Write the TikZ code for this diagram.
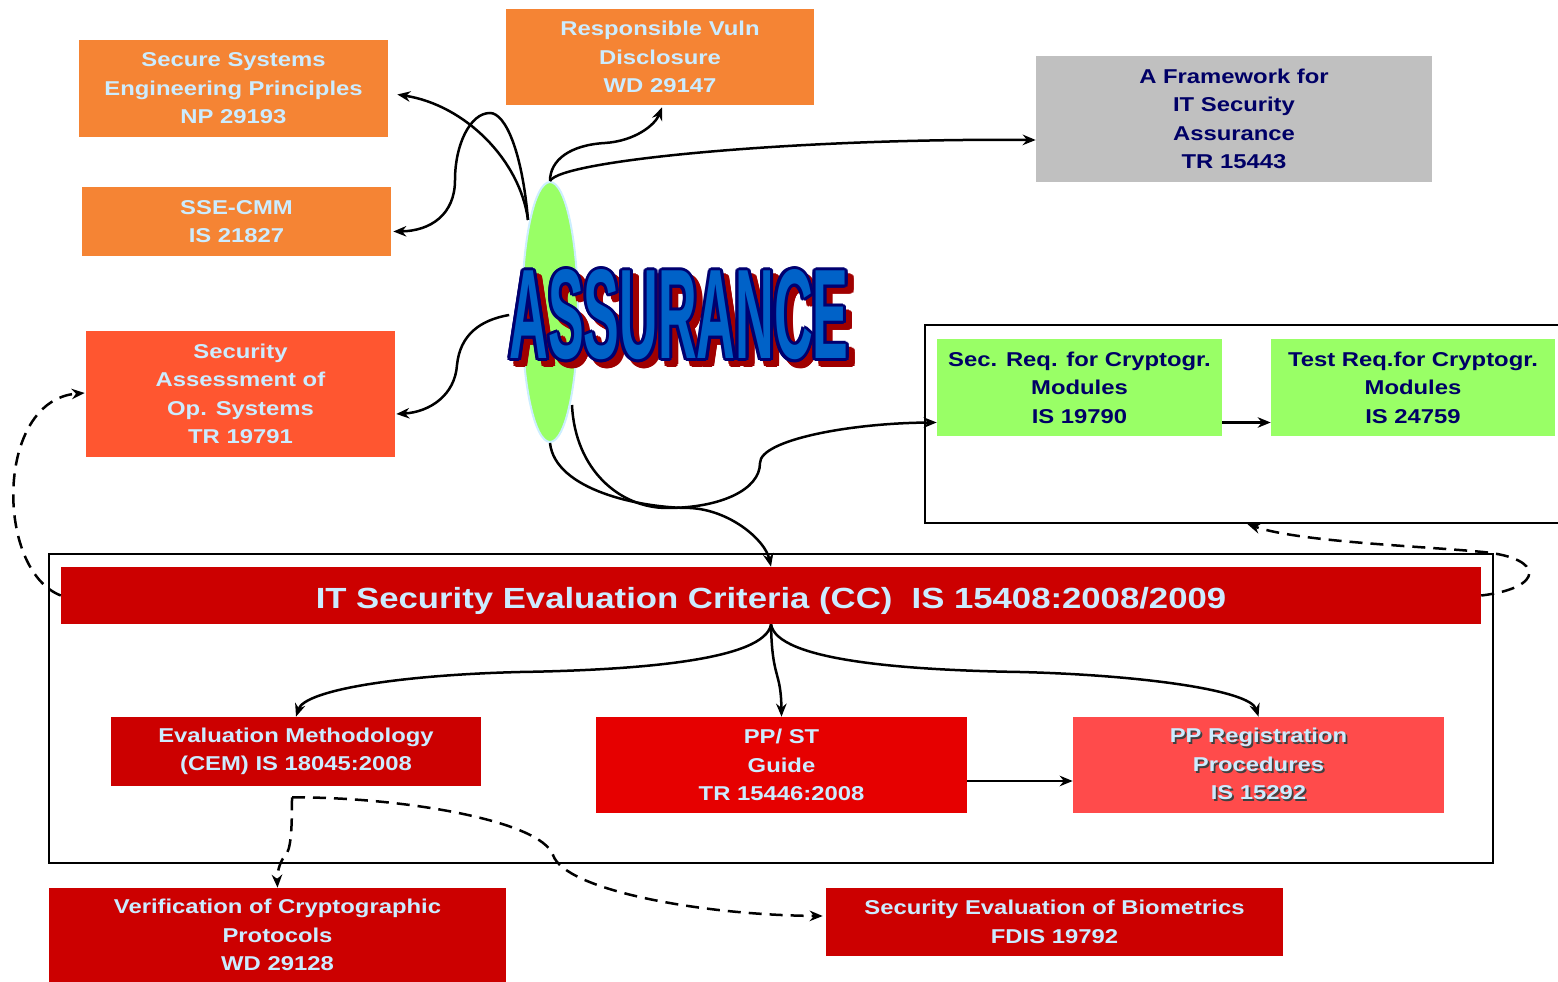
\documentclass[tikz,border=0pt]{standalone}
\usepackage{fontspec}
\setmainfont{Liberation Sans}[FakeStretch=1.19]
\newfontfamily\assurfont{Liberation Sans}
\usetikzlibrary{shapes.geometric,arrows.meta,calc}
\definecolor{orng}{HTML}{F58434}
\definecolor{saoc}{HTML}{FF5630}
\definecolor{greyc}{HTML}{C0C0C0}
\definecolor{greenc}{HTML}{99FF66}
\definecolor{ccred}{HTML}{CC0000}
\definecolor{ppstc}{HTML}{E60000}
\definecolor{pprc}{HTML}{FF4B4B}
\definecolor{navy}{HTML}{000066}
\definecolor{txtblue}{HTML}{CCECFF}
\definecolor{ellb}{HTML}{CCEEFF}
\definecolor{assblue}{HTML}{0062C8}
\definecolor{assnavy}{HTML}{000070}
\definecolor{assred}{HTML}{A00000}
\newcommand\assurtext[1]{\resizebox{6.78cm}{1.78cm}{\color{#1}\assurfont\bfseries ASSURANCE}}
\newcommand\shd[1]{\makebox[0pt][l]{\hspace{0.035cm}\raisebox{-0.035cm}{\color{black!75}#1}}#1}
\tikzset{
  box/.style={rectangle, inner sep=0pt, align=center, text=txtblue,
    font=\fontsize{11.4pt}{16.2pt}\selectfont\bfseries},
  obox/.style={box, fill=orng},
  nbox/.style={box, text=navy},
  cont/.style={rectangle, draw=black, line width=0.05cm, inner sep=0pt},
  arr/.style={line width=0.05cm, -{Stealth[length=0.26cm,width=0.21cm]}},
  dsh/.style={arr, dash pattern=on 0.26cm off 0.16cm},
}
\begin{document}
\begin{tikzpicture}[x=0.02cm,y=-0.02cm]
\useasboundingbox (0,0) rectangle (1558,982);

% containers
\node[cont, minimum width=12.9cm, minimum height=3.96cm] (gcont) at (1247.5,424) {};
\node[cont, minimum width=28.88cm, minimum height=6.18cm] (cccont) at (771,708.5) {};

% top boxes
\node[obox, minimum width=6.18cm, minimum height=1.94cm] (ssep) at (233.5,88.5) {Secure Systems\\Engineering Principles\\NP 29193};
\node[obox, minimum width=6.16cm, minimum height=1.92cm] (rvd) at (660,57) {Responsible Vuln\\Disclosure\\WD 29147};
\node[nbox, fill=greyc, minimum width=7.92cm, minimum height=2.52cm] (fw) at (1234,119) {A Framework for\\IT Security\\Assurance\\TR 15443};
\node[obox, minimum width=6.18cm, minimum height=1.38cm] (sse) at (236.5,221.5) {SSE-CMM\\IS 21827};
\node[box, fill=saoc, minimum width=6.18cm, minimum height=2.52cm] (sao) at (240.5,394) {Security\\Assessment of\\Op. Systems\\TR 19791};

% green boxes
\node[nbox, fill=greenc, minimum width=5.70cm, minimum height=1.94cm] (secreq) at (1079.5,387.5) {Sec. Req. for Cryptogr.\\Modules\\IS 19790};
\node[nbox, fill=greenc, minimum width=5.68cm, minimum height=1.94cm] (testreq) at (1413,387.5) {Test Req.for Cryptogr.\\Modules\\IS 24759};

% CC group
\node[box, fill=ccred, minimum width=28.4cm, minimum height=1.14cm, font=\fontsize{16.6pt}{20pt}\selectfont\bfseries] (cc) at (771,595.5) {\raisebox{-0.1cm}[\height][\depth]{IT Security Evaluation Criteria (CC)\ \ IS 15408:2008/2009}};
\node[box, fill=ccred, minimum width=7.4cm, minimum height=1.38cm] (em) at (296,751.5) {Evaluation Methodology\\(CEM) IS 18045:2008};
\node[box, fill=ppstc, minimum width=7.42cm, minimum height=1.92cm] (ppst) at (781.5,765) {PP/ ST\\Guide\\TR 15446:2008};
\node[box, fill=pprc, minimum width=7.42cm, minimum height=1.92cm] (ppreg) at (1258.5,765) {\shd{PP Registration}\\\shd{Procedures}\\\shd{IS 15292}};

% bottom boxes
\node[box, fill=ccred, minimum width=9.14cm, minimum height=1.88cm] (vcp) at (277.5,935) {Verification of Cryptographic\\Protocols\\WD 29128};
\node[box, fill=ccred, minimum width=9.14cm, minimum height=1.36cm] (seb) at (1054.5,922) {Security Evaluation of Biometrics\\FDIS 19792};

% ellipse
\node[ellipse, fill=greenc, draw=ellb, line width=0.04cm, minimum width=1.12cm, minimum height=5.2cm, inner sep=0pt] (ell) at (550,312) {};
\coordinate (sa) at ($(ell.center)+(-22,-92)$);
\coordinate (sf) at ($(ell.center)+(22,93)$);

% connectors from ASSURANCE
\draw[arr] (sa) .. controls (520,160) and (465,105) .. ($(ssep.east)+(9,6)$);
\draw[arr] (sa) .. controls (522,150) and (505,113) .. (490,113)
  .. controls (470,113) and (455,145) .. (455,180)
  .. controls (455,215) and (430,231) .. ($(sse.east)+(2,10)$);
\draw[arr] (ell.north) .. controls (550,160) and (570,145) .. (605,143)
  .. controls (635,141) and (655,125) .. ($(rvd.south)+(2,2)$);
\draw[arr] (ell.north) .. controls (560,160) and (800,138) .. ($(fw.west)+(0,21)$);
\draw[arr] (ell.south) .. controls (555,490) and (640,508) .. (690,508)
  .. controls (730,510) and (765,540) .. (cc.north);
\draw[arr] (sf) .. controls (575,470) and (620,508) .. (667,508)
  .. controls (720,508) and (760,490) .. (760,463)
  .. controls (760,440) and (850,423) .. ($(secreq.west)+(0,35)$);
\draw[arr] ($(secreq.east)+(0,35)$) -- ($(testreq.west)+(0,35)$);

% CC children
\draw[arr] (cc.south) .. controls (765,660) and (640,670) .. (520,672)
  .. controls (400,675) and (305,690) .. (em.north);
\draw[arr] (cc.south) .. controls (772,680) and (781,670) .. (ppst.north);
\draw[arr] (cc.south) .. controls (777,660) and (900,670) .. (1020,672)
  .. controls (1140,675) and (1250,690) .. (ppreg.north);
\draw[arr] ($(ppst.east)+(0,16)$) -- ($(ppreg.west)+(0,16)$);

% dashed
\draw[dsh] (cc.west) .. controls (-5,570) and (-5,400) .. ($(sao.west)+(-1,-1)$);
\draw[dsh] (cc.east) .. controls (1545,588) and (1545,558) .. (1483,552)
  .. controls (1420,546) and (1300,542) .. (gcont.south);
\coordinate (sj) at ($(em.south)+(-4,11)$);
\draw[dsh] (sj) .. controls (292,830) and (291,850) .. (285,856)
  .. controls (279,862) and (277,875) .. (vcp.north);
\draw[dsh] (sj) .. controls (400,797) and (540,820) .. (553,855)
  .. controls (565,890) and (700,915) .. ($(seb.west)+(-3,-6)$);

% ASSURANCE
\foreach \a in {0,22.5,...,337.5}
  \node[inner sep=0pt] at ($(685,321)+(\a:3)$) {\assurtext{assred}};
\node[inner sep=0pt] at (685,321) {\assurtext{assred}};
\foreach \a in {0,22.5,...,337.5}
  \node[inner sep=0pt] at ($(679,315)+(\a:3)$) {\assurtext{assnavy}};
\node[inner sep=0pt] (assur) at (679,315) {\assurtext{assblue}};
\draw[arr] (assur.west) .. controls (480,320) and (460,335) .. (457,365)
  .. controls (455,395) and (430,412) .. ($(sao.east)+(1,20)$);
\end{tikzpicture}
\end{document}
